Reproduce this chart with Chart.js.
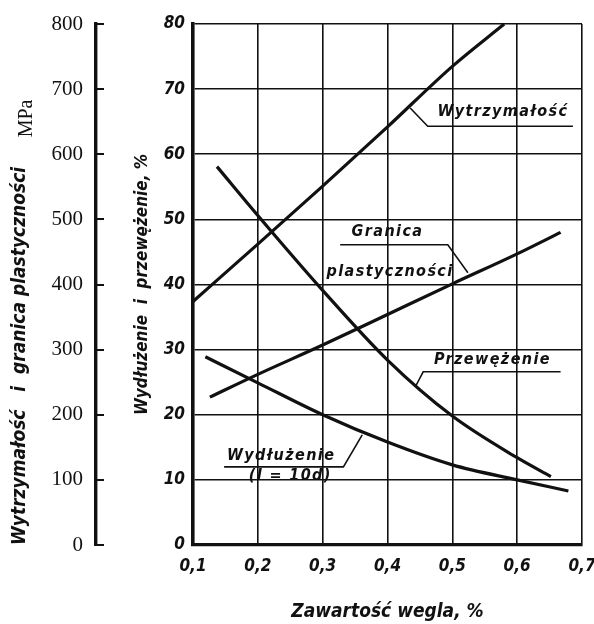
<!DOCTYPE html>
<html><head><meta charset="utf-8">
<script src="https://cdn.jsdelivr.net/npm/chart.js@4.4.1/dist/chart.umd.min.js"></script>
<style>html,body{margin:0;padding:0;background:#fff}canvas{display:block}</style>
</head><body>
<canvas id="c" width="594" height="624" style="width:594px;height:624px"></canvas>
<script>
// ---- data ----
const carbonStrength = [0.10, 0.20, 0.30, 0.40, 0.50, 0.58];
const strengthMPa    = [374, 462, 551, 642, 735, 800];

const carbonYield = [0.126, 0.20, 0.30, 0.40, 0.50, 0.60, 0.667];
const yieldMPa    = [227, 262, 307, 354, 401, 447, 480];

const carbonReduction = [0.137, 0.20, 0.30, 0.40, 0.50, 0.60, 0.652];
const reductionPct    = [58.1, 50.6, 39.1, 28.4, 19.8, 13.4, 10.5];

const carbonElong = [0.119, 0.20, 0.30, 0.40, 0.50, 0.60, 0.679];
const elongPct    = [28.9, 24.9, 20.0, 15.8, 12.3, 10.0, 8.3];

const xTicks   = [0.1, 0.2, 0.3, 0.4, 0.5, 0.6, 0.7];
const pctTicks = [0, 10, 20, 30, 40, 50, 60, 70, 80];
const mpaTicks = [0, 100, 200, 300, 400, 500, 600, 700, 800];

const xTitle   = 'Zawartość wegla, %';
const pctTitle = 'Wydłużenie  i  przewężenie, %';
const mpaTitle = 'Wytrzymałość   i  granica plastyczności';
const mpaUnit  = 'MPa';

// curve labels (text, anchor in data units: carbon %, right-axis %)
const labelTexts = ['Wytrzymałość', 'Granica', 'plastyczności', 'Przewężenie', 'Wydłużenie', '(l = 10d)'];
const labelX     = [0.578, 0.400, 0.404, 0.562, 0.236, 0.250];
const labelY     = [66.5, 48.1, 41.9, 28.4, 13.7, 10.6];
// underline + leader polylines in data units
const leaders = [
  [[0.686, 64.3], [0.462, 64.3], [0.435, 67.1]],
  [[0.327, 46.1], [0.493, 46.1], [0.524, 41.8]],
  [[0.667, 26.6], [0.455, 26.6], [0.443, 24.3]],
  [[0.148, 12.0], [0.332, 12.0], [0.361, 16.9]]
];

// ---- styles ----
const COND = "'DejaVu Sans Condensed', 'Liberation Sans Narrow', 'DejaVu Sans', sans-serif";
const SERIF = "'Liberation Serif', 'DejaVu Serif', serif";
const INK = '#111';

function mk(xs, ys, axis) {
  return {
    data: xs.map((x, i) => ({x: x, y: ys[i]})),
    yAxisID: axis,
    borderColor: INK, borderWidth: 3.2,
    pointRadius: 0, fill: false,
    cubicInterpolationMode: 'monotone',
    clip: 4
  };
}
function noPad(s) { s.paddingTop = 0; s.paddingBottom = 0; s.paddingLeft = 0; s.paddingRight = 0; }

const annot = {
  id: 'annot',
  afterDatasetsDraw(chart) {
    const {ctx} = chart;
    const xs = chart.scales.x, ps = chart.scales.pct, ms = chart.scales.mpa;
    ctx.save();
    ctx.strokeStyle = INK; ctx.lineWidth = 1.6;
    leaders.forEach(pl => {
      ctx.beginPath();
      pl.forEach((p, i) => {
        const px = xs.getPixelForValue(p[0]), py = ps.getPixelForValue(p[1]);
        if (i === 0) ctx.moveTo(px, py); else ctx.lineTo(px, py);
      });
      ctx.stroke();
    });
    ctx.fillStyle = INK;
    ctx.font = "italic bold 16px " + COND;
    try { ctx.letterSpacing = '1.4px'; } catch (e) {}
    ctx.textAlign = 'center'; ctx.textBaseline = 'middle';
    labelTexts.forEach((t, i) => {
      ctx.fillText(t, xs.getPixelForValue(labelX[i]), ps.getPixelForValue(labelY[i]));
    });
    try { ctx.letterSpacing = '0px'; } catch (e) {}
    // unit label of the outer axis
    ctx.translate(ms.left + 27, ms.getPixelForValue(655));
    ctx.rotate(-Math.PI / 2);
    ctx.font = "20px " + SERIF;
    ctx.fillText(mpaUnit, 0, 0);
    ctx.restore();
  }
};

new Chart(document.getElementById('c'), {
  type: 'line',
  data: {
    datasets: [
      mk(carbonStrength, strengthMPa, 'mpa'),
      mk(carbonYield, yieldMPa, 'mpa'),
      mk(carbonReduction, reductionPct, 'pct'),
      mk(carbonElong, elongPct, 'pct')
    ]
  },
  options: {
    responsive: false, animation: false, devicePixelRatio: 1,
    layout: {padding: {left: 0, right: 12, top: 24, bottom: 0}},
    plugins: {legend: {display: false}, tooltip: {enabled: false}},
    scales: {
      x: {
        type: 'linear', min: 0.1, max: 0.7,
        afterBuildTicks: s => { s.ticks = xTicks.map(v => ({value: v})); },
        afterFit: s => { s.height = 79; noPad(s); },
        ticks: {
          color: INK, padding: 11,
          font: {family: COND, size: 17, style: 'italic', weight: 'bold'},
          callback: v => v.toFixed(1).replace('.', ',')
        },
        grid: {color: INK, lineWidth: 1.6, drawTicks: false},
        border: {display: true, color: INK, width: 3.2},
        title: {display: true, text: xTitle, color: INK, padding: {top: 0, bottom: 1},
          font: {family: COND, size: 19, style: 'italic', weight: 'bold'}}
      },
      pct: {
        type: 'linear', position: 'left', weight: 0, min: 0, max: 80,
        afterBuildTicks: s => { s.ticks = pctTicks.map(v => ({value: v})); },
        afterFit: s => { s.width = 97; noPad(s); },
        ticks: {color: INK, padding: 8,
          font: {family: COND, size: 17, style: 'italic', weight: 'bold'}},
        grid: {color: INK, lineWidth: 1.6, drawTicks: false},
        border: {display: true, color: INK, width: 3.6},
        title: {display: true, text: pctTitle, color: INK, padding: {top: 36, bottom: 0},
          font: {family: COND, size: 17, style: 'italic', weight: 'bold'}}
      },
      mpa: {
        type: 'linear', position: 'left', weight: 10, min: 0, max: 800,
        afterBuildTicks: s => { s.ticks = mpaTicks.map(v => ({value: v})); },
        afterFit: s => { s.width = 96; noPad(s); },
        ticks: {color: INK, padding: 21,
          font: {family: SERIF, size: 21}},
        grid: {drawOnChartArea: false, drawTicks: true, tickLength: -8,
          color: INK, lineWidth: 2, tickColor: INK, tickWidth: 2},
        border: {display: true, color: INK, width: 3.4},
        title: {display: true, text: mpaTitle, color: INK, align: 'start', padding: {top: 9, bottom: 0},
          font: {family: COND, size: 19, style: 'italic', weight: 'bold'}}
      }
    }
  },
  plugins: [annot]
});
</script>
</body></html>
